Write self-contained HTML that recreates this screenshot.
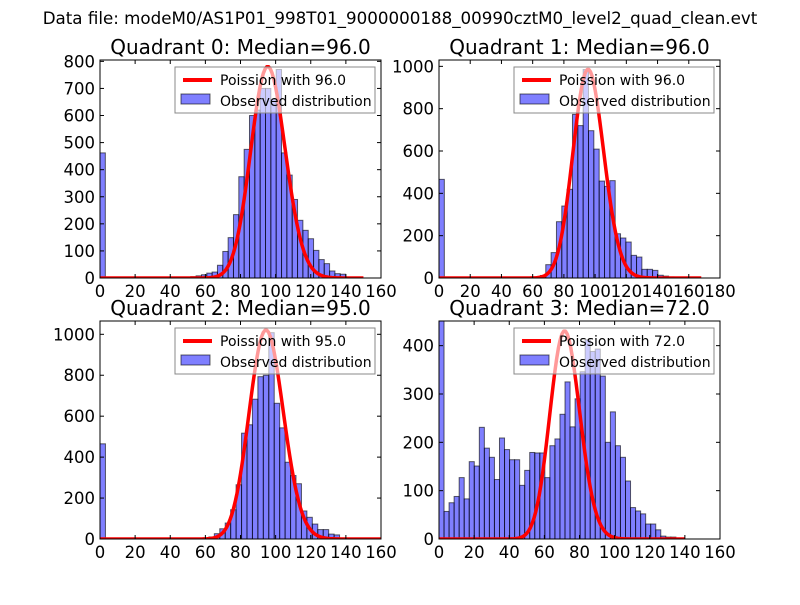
<!DOCTYPE html>
<html><head><meta charset="utf-8">
<style>
body{margin:0;background:#fff;}
svg text{font-family:"DejaVu Sans","Liberation Sans",sans-serif;}
</style></head>
<body>
<svg id="fig" width="800" height="600" viewBox="0 0 800 600" xmlns="http://www.w3.org/2000/svg">
<rect width="800" height="600" fill="#fff"/>
<text x="400" y="24" font-size="16.7" text-anchor="middle">Data file: modeM0/AS1P01_998T01_9000000188_00990cztM0_level2_quad_clean.evt</text>
</svg>
<script>
// Panel data (bar heights per bin, starting at 0)
const q0Counts = [462,0,0,0,0,0,0,0,0,0,0,0,0,0,0,0,2,5,8,12,18,22,47,98,149,234,374,475,600,620,700,700,660,770,462,380,290,213,176,145,102,68,53,26,16,14,2];
const q1Counts = [466,0,0,0,0,0,0,0,0,0,0,0,0,0,0,0,0,0,5,12,63,120,266,340,419,773,720,985,696,609,458,433,460,209,189,170,107,99,41,41,36,13,9,5];
const q2Counts = [465,0,0,0,0,0,0,0,0,0,0,0,0,0,0,0,0,0,0,3,10,26,50,78,143,265,517,558,683,793,800,1008,663,543,375,310,270,137,106,73,46,46,24,20,5];
const q3Counts = [470,57,75,88,127,83,160,151,231,188,169,123,209,185,164,164,111,142,179,178,178,127,193,207,258,325,232,290,346,412,388,393,337,200,263,193,169,120,65,58,52,31,31,19,6,4,4];
const medians = [96,96,95,72];
const curvePeaks = [780,985,1020,430];
const curveMax = [150,168,160,140];
const binWidths = [3.04,3.42,3.1,2.87];
const xMaxes = [160,180,160,160];
const yMaxes = [805,1030,1065,451];
const yTickLists = [[0,100,200,300,400,500,600,700,800],[0,200,400,600,800,1000],[0,200,400,600,800,1000],[0,100,200,300,400]];
const xTickLists = [[0,20,40,60,80,100,120,140,160],[0,20,40,60,80,100,120,140,160,180],[0,20,40,60,80,100,120,140,160],[0,20,40,60,80,100,120,140,160]];
const titles = ["Quadrant 0: Median=96.0","Quadrant 1: Median=96.0","Quadrant 2: Median=95.0","Quadrant 3: Median=72.0"];
const legendLabels = ["Poission with 96.0","Poission with 96.0","Poission with 95.0","Poission with 72.0"];
const countsAll = [q0Counts,q1Counts,q2Counts,q3Counts];

const boxes = [[100,60,381,278],[439,60,720,278],[100,321,381,539],[439,321,720,539]];
const NS = "http://www.w3.org/2000/svg";
const svg = document.getElementById('fig');
function mk(tag, attrs, parent){const e=document.createElementNS(NS,tag);for(const k in attrs)e.setAttribute(k,attrs[k]);(parent||svg).appendChild(e);return e;}
function lgamma(z){
  let s=0; while(z<8){s-=Math.log(z);z+=1;}
  return s+(z-0.5)*Math.log(z)-z+0.5*Math.log(2*Math.PI)+1/(12*z)-1/(360*z*z*z);
}
for(let p=0;p<4;p++){
  const [x0,y0,x1,y1]=boxes[p];
  const xs=v=>x0+(v/xMaxes[p])*(x1-x0);
  const ys=v=>y1-(v/yMaxes[p])*(y1-y0);
  const g=mk('g',{});
  
  
  const clipId='clip'+p;
  const cp=mk('clipPath',{id:clipId},g); mk('rect',{x:x0,y:y0,width:x1-x0,height:y1-y0},cp);
  const plot=mk('g',{'clip-path':'url(#'+clipId+')'},g);
  const counts=countsAll[p], w=binWidths[p];
  counts.forEach((c,k)=>{
    if(c<=0) return;
    const r=mk('rect',{x:xs(k*w),y:ys(c),width:xs((k+1)*w)-xs(k*w),height:ys(0)-ys(c),fill:'rgba(0,0,255,0.5)',stroke:'rgba(0,0,0,0.6)','stroke-width':1},plot);
    
    
  });
  const lam=medians[p]; const lp=k=>k*Math.log(lam)-lam-lgamma(k+1);
  const peakLog=lp(Math.floor(lam));
  let d='';
  for(let k=0;k<=curveMax[p];k++){
    const v=curvePeaks[p]*Math.exp(lp(k)-peakLog);
    d+=(k?'L':'M')+xs(k).toFixed(2)+','+ys(v).toFixed(2);
  }
  const line=mk('path',{d:d,fill:'none',stroke:'#ff0000','stroke-width':3.5,'stroke-linejoin':'round'},plot);
  
  
  mk('rect',{x:x0,y:y0,width:x1-x0,height:y1-y0,fill:'none',stroke:'#000','stroke-width':1},g);
  xTickLists[p].forEach(t=>{
    const X=xs(t);
    mk('line',{x1:X,y1:y1,x2:X,y2:y1-4,stroke:'#000'},g);
    mk('line',{x1:X,y1:y0,x2:X,y2:y0+4,stroke:'#000'},g);
    const tx=mk('text',{x:X,y:y1+19,'font-size':16.5,'text-anchor':'middle'},g); tx.textContent=t;
    
    
  });
  yTickLists[p].forEach(t=>{
    const Y=ys(t);
    mk('line',{x1:x0,y1:Y,x2:x0+4,y2:Y,stroke:'#000'},g);
    mk('line',{x1:x1,y1:Y,x2:x1-4,y2:Y,stroke:'#000'},g);
    const tx=mk('text',{x:x0-5,y:Y+6,'font-size':16.5,'text-anchor':'end'},g); tx.textContent=t;
    
    
  });
  const ti=mk('text',{x:(x0+x1)/2,y:y0-6,'font-size':20,'text-anchor':'middle'},g); ti.textContent=titles[p];
  
  
  const lg=mk('g',{},g);
  
  
  const lx=x1-206, ly=y0+7;
  mk('rect',{x:lx,y:ly,width:200,height:46,fill:'rgba(255,255,255,0.6)',stroke:'#888','stroke-width':1},lg);
  mk('line',{x1:lx+8,y1:ly+13,x2:lx+37,y2:ly+13,stroke:'#ff0000','stroke-width':4},lg);
  mk('rect',{x:lx+6,y:ly+27,width:29,height:10,fill:'rgba(0,0,255,0.5)',stroke:'rgba(0,0,0,0.6)'},lg);
  const t1=mk('text',{x:lx+45,y:ly+18,'font-size':14},lg); t1.textContent=legendLabels[p];
  
  
  const t2=mk('text',{x:lx+45,y:ly+39,'font-size':14},lg); t2.textContent='Observed distribution';
  
  
}
</script>
</body></html>
